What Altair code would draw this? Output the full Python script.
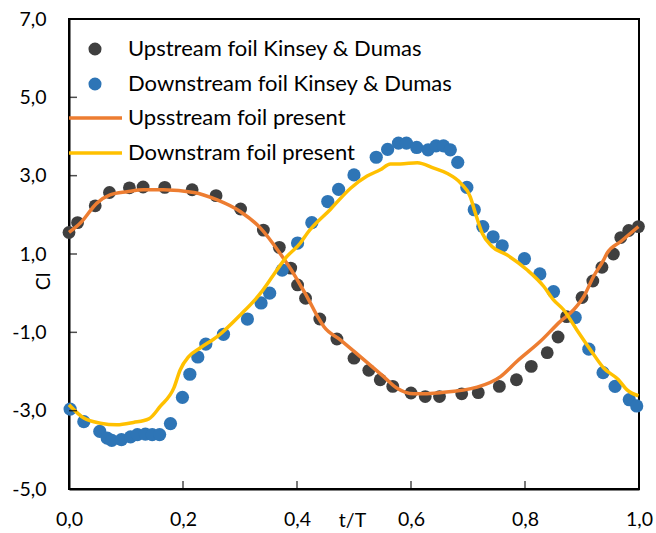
import altair as alt
import pandas as pd

# ---- data ----
up_t = [0.000, 0.015, 0.046, 0.071, 0.106, 0.130, 0.168, 0.216, 0.258, 0.301, 0.341, 0.369,
        0.389, 0.401, 0.415, 0.440, 0.470, 0.500, 0.526, 0.546, 0.568, 0.600, 0.625, 0.650,
        0.689, 0.718, 0.755, 0.785, 0.811, 0.839, 0.858, 0.873, 0.900, 0.919, 0.935, 0.955,
        0.968, 0.982, 0.999]
up_cl = [1.55, 1.80, 2.23, 2.57, 2.69, 2.71, 2.70, 2.64, 2.49, 2.15, 1.61, 1.17,
         0.64, 0.21, -0.13, -0.66, -1.17, -1.66, -1.97, -2.21, -2.38, -2.55, -2.64, -2.64,
         -2.57, -2.54, -2.38, -2.21, -1.87, -1.52, -1.12, -0.60, -0.11, 0.31, 0.66, 1.00,
         1.42, 1.60, 1.70]

down_t = [0.002, 0.026, 0.054, 0.067, 0.075, 0.092, 0.108, 0.120, 0.134, 0.146, 0.159, 0.178,
          0.199, 0.212, 0.226, 0.240, 0.271, 0.313, 0.337, 0.352, 0.374, 0.401, 0.426, 0.454,
          0.473, 0.500, 0.539, 0.559, 0.578, 0.592, 0.610, 0.630, 0.644, 0.657, 0.669, 0.682,
          0.698, 0.711, 0.726, 0.744, 0.760, 0.799, 0.826, 0.850, 0.888, 0.912, 0.937, 0.958,
          0.983, 0.996]
down_cl = [-2.96, -3.28, -3.53, -3.70, -3.76, -3.74, -3.67, -3.61, -3.60, -3.61, -3.61, -3.33,
           -2.66, -2.07, -1.63, -1.30, -1.05, -0.66, -0.25, 0.00, 0.59, 1.28, 1.80, 2.34,
           2.65, 3.02, 3.47, 3.67, 3.83, 3.83, 3.72, 3.66, 3.76, 3.76, 3.66, 3.34,
           2.70, 2.13, 1.70, 1.44, 1.21, 0.88, 0.49, 0.04, -0.62, -1.43, -2.03, -2.38,
           -2.72, -2.88]

up_line_t = [0.000, 0.020, 0.049, 0.072, 0.102, 0.131, 0.166, 0.219, 0.260, 0.301, 0.336, 0.371,
             0.394, 0.406, 0.418, 0.437, 0.447, 0.476, 0.511, 0.552, 0.575, 0.605, 0.651, 0.716,
             0.757, 0.786, 0.827, 0.862, 0.885, 0.903, 0.920, 0.938, 0.944, 0.968, 0.999]
up_line_cl = [1.55, 1.79, 2.30, 2.51, 2.59, 2.64, 2.64, 2.57, 2.38, 2.08, 1.66, 1.00,
              0.50, 0.20, -0.10, -0.62, -0.85, -1.19, -1.62, -2.13, -2.42, -2.57, -2.54, -2.40,
              -2.13, -1.74, -1.23, -0.72, -0.43, -0.09, 0.42, 0.85, 1.02, 1.32, 1.70]

down_line_t = [0.000, 0.026, 0.055, 0.084, 0.113, 0.140, 0.160, 0.184, 0.195, 0.210, 0.230, 0.260,
               0.301, 0.336, 0.359, 0.382, 0.406, 0.418, 0.458, 0.494, 0.523, 0.546, 0.564, 0.581,
               0.611, 0.640, 0.663, 0.687, 0.704, 0.713, 0.725, 0.742, 0.768, 0.804, 0.833, 0.850,
               0.868, 0.891, 0.915, 0.938, 0.964, 0.979, 0.999]
down_line_cl = [-2.85, -3.19, -3.32, -3.36, -3.30, -3.21, -2.89, -2.42, -1.96, -1.62, -1.40, -1.11,
                -0.55, 0.00, 0.47, 0.93, 1.28, 1.53, 2.13, 2.68, 2.99, 3.15, 3.30, 3.30,
                3.33, 3.19, 3.06, 2.81, 2.46, 2.04, 1.53, 1.19, 0.98, 0.59, 0.17, -0.17,
                -0.43, -0.94, -1.45, -1.91, -2.21, -2.47, -2.62]

series_names = ["Upstream foil Kinsey & Dumas", "Downstream foil Kinsey & Dumas",
                "Upsstream foil present", "Downstram foil present"]
series_colors = ["#3f3f3f", "#2e75b6", "#ed7d31", "#ffc000"]

x_ticks = [0.0, 0.2, 0.4, 0.6, 0.8, 1.0]
y_ticks = [-5, -3, -1, 1, 3, 5, 7]

FONT = "Lato"
AXIS_FS = 19.5
LEG_FS = 22
W, H = 570, 470

xs = alt.Scale(domain=[0, 1], nice=False, zero=False)
ys = alt.Scale(domain=[-5, 7], nice=False, zero=False)

lab_expr = "replace(replace(format(datum.value, '.1f'), '.', ','), '\u2212', '-')"

x_axis = alt.Axis(values=x_ticks, labelExpr=lab_expr, title="t/T", grid=False, ticks=False, tickSize=0,
                  labelPadding=21, labelFlush=False, labelOverlap=False,
                  titleX=283, titleY=31, titleBaseline="middle", titleAlign="center")
y_axis = alt.Axis(values=y_ticks, labelExpr=lab_expr, title="Cl", grid=False, ticks=False, tickSize=0,
                  labelPadding=23, labelOverlap=False, labelFlush=False,
                  titleX=-26, titleY=262, titleAngle=-90, titleBaseline="middle", titleAlign="center")

up_df = pd.DataFrame({"t": up_t, "cl": up_cl})
down_df = pd.DataFrame({"t": down_t, "cl": down_cl})
upl_df = pd.DataFrame({"t": up_line_t, "cl": up_line_cl})
downl_df = pd.DataFrame({"t": down_line_t, "cl": down_line_cl})

up_pts = alt.Chart(up_df).mark_circle(size=165, opacity=1, color=series_colors[0]).encode(
    x=alt.X("t:Q", scale=xs, axis=x_axis), y=alt.Y("cl:Q", scale=ys, axis=y_axis))
down_pts = alt.Chart(down_df).mark_circle(size=175, opacity=1, color=series_colors[1]).encode(
    x=alt.X("t:Q", scale=xs), y=alt.Y("cl:Q", scale=ys))
up_line = alt.Chart(upl_df).mark_line(color=series_colors[2], strokeWidth=3.5, interpolate="monotone").encode(
    x=alt.X("t:Q", scale=xs), y=alt.Y("cl:Q", scale=ys))
down_line = alt.Chart(downl_df).mark_line(color=series_colors[3], strokeWidth=3.5, interpolate="monotone").encode(
    x=alt.X("t:Q", scale=xs), y=alt.Y("cl:Q", scale=ys))

# inside tick marks
xt_df = pd.DataFrame({"t": x_ticks[1:-1]})
yt_df = pd.DataFrame({"cl": y_ticks[1:-1]})
x_tick_marks = alt.Chart(xt_df).mark_tick(color="black", thickness=1.5, size=8, orient="vertical").encode(
    x=alt.X("t:Q", scale=xs), y=alt.value(H - 4))
y_tick_marks = alt.Chart(yt_df).mark_tick(color="black", thickness=1.5, size=8, orient="horizontal").encode(
    y=alt.Y("cl:Q", scale=ys), x=alt.value(4))

# manual legend (top-left inside plot)
leg_rows_y = [30, 65, 99, 134]
legend_layers = []
for i, name in enumerate(series_names):
    d = pd.DataFrame({"label": [name]})
    if i < 2:
        legend_layers.append(alt.Chart(d).mark_circle(size=170, opacity=1, color=series_colors[i]).encode(
            x=alt.value(26), y=alt.value(leg_rows_y[i])))
    else:
        legend_layers.append(alt.Chart(d).mark_rule(color=series_colors[i], strokeWidth=3.5).encode(
            x=alt.value(0), x2=alt.value(53), y=alt.value(leg_rows_y[i])))
    legend_layers.append(alt.Chart(d).mark_text(align="left", baseline="middle", font=FONT, fontSize=LEG_FS,
                                                color="black").encode(
        x=alt.value(59), y=alt.value(leg_rows_y[i]), text="label:N"))

chart = alt.layer(up_pts, down_pts, up_line, down_line, x_tick_marks, y_tick_marks, *legend_layers).properties(
    width=W, height=H,
    autosize=alt.AutoSizeParams(type="none"),
    padding={"left": 69, "top": 19, "right": 17, "bottom": 44},
    background="white",
).configure_view(stroke="black", strokeWidth=2).configure_axis(
    domainColor="black", domainWidth=2, labelFont=FONT, labelFontSize=AXIS_FS, labelColor="black",
    titleFont=FONT, titleFontSize=AXIS_FS, titleFontWeight="normal", titleColor="black")

chart.save("out.html", embed_options={"renderer": "svg", "actions": False})
